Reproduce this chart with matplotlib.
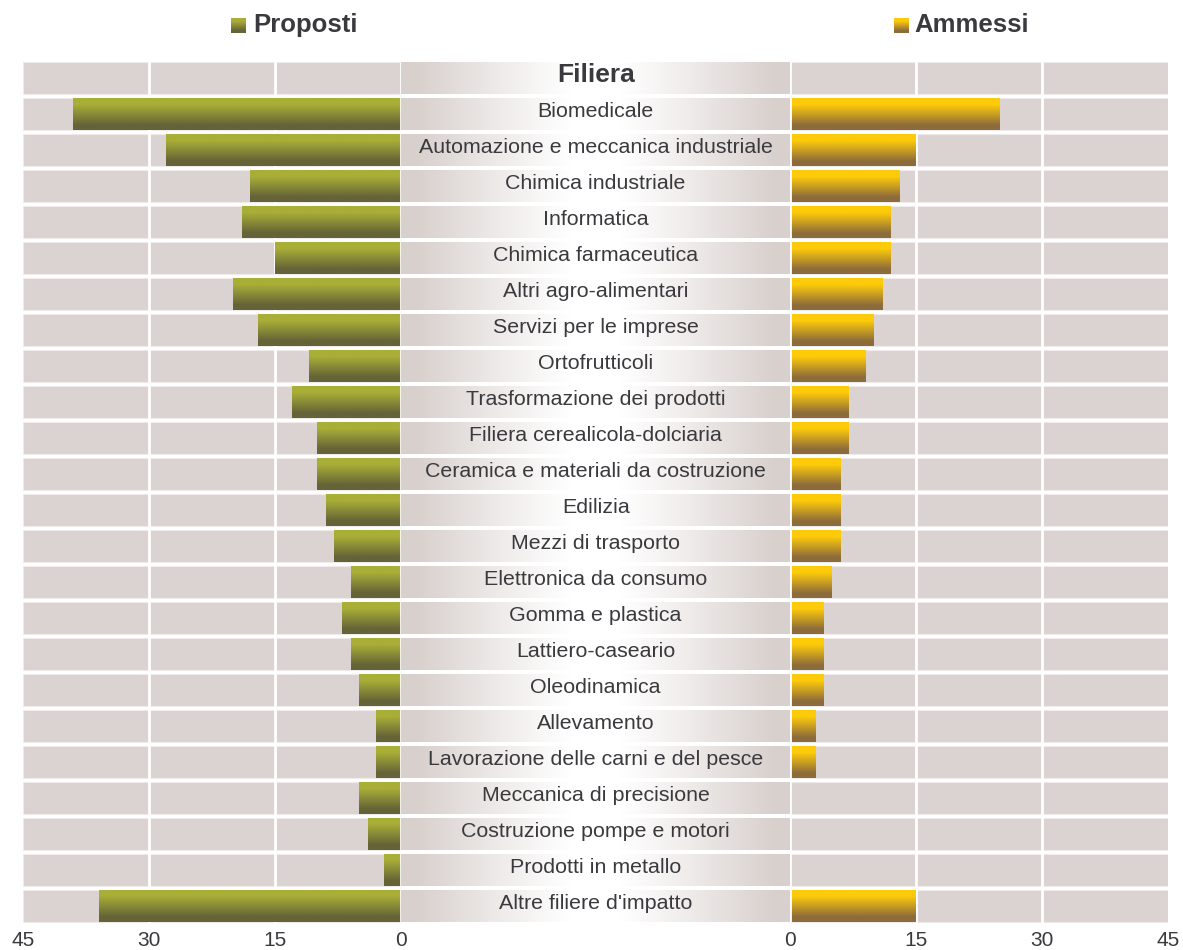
import numpy as np
import matplotlib
matplotlib.use('Agg')
import matplotlib.pyplot as plt
from matplotlib.colors import to_rgb

plt.rcParams['font.family'] = ['Liberation Sans', 'DejaVu Sans']

# dati
categorie = ['Biomedicale', 'Automazione e meccanica industriale', 'Chimica industriale',
             'Informatica', 'Chimica farmaceutica', 'Altri agro-alimentari',
             'Servizi per le imprese', 'Ortofrutticoli', 'Trasformazione dei prodotti',
             'Filiera cerealicola-dolciaria', 'Ceramica e materiali da costruzione',
             'Edilizia', 'Mezzi di trasporto', 'Elettronica da consumo', 'Gomma e plastica',
             'Lattiero-caseario', 'Oleodinamica', 'Allevamento',
             'Lavorazione delle carni e del pesce', 'Meccanica di precisione',
             'Costruzione pompe e motori', 'Prodotti in metallo', "Altre filiere d'impatto"]
proposti = [39, 28, 18, 19, 15, 20, 17, 11, 13, 10, 10, 9, 8, 6, 7, 6, 5, 3, 3, 5, 4, 2, 36]
ammessi = [25, 15, 13, 12, 12, 11, 10, 9, 7, 7, 6, 6, 6, 5, 4, 4, 4, 3, 3, 0, 0, 0, 15]
tick_sx = [45, 30, 15, 0]
tick_dx = [0, 15, 30, 45]

testo = '#3a3a3e'
grigio = '#dbd3d1'


def gradiente_v(top, bot, n=60):
    t = np.linspace(0, 1, n)
    m = np.clip((t - 0.2) / 0.65, 0, 1)
    c1, c2 = np.array(to_rgb(top)), np.array(to_rgb(bot))
    return (c1[None, :] * (1 - m[:, None]) + c2[None, :] * m[:, None])[:, None, :]


img_verde = gradiente_v('#a9ae37', '#656338')
img_giallo = gradiente_v('#fdcb0a', '#8d6c3b')


def riempi(ax, bars, img):
    for b in bars:
        x0, y0 = b.get_xy()
        w, hh = b.get_width(), b.get_height()
        if w == 0:
            continue
        im = ax.imshow(img, extent=(x0, x0 + w, y0 + hh, y0), origin='upper',
                       aspect='auto', zorder=3, interpolation='bilinear')
        im.set_clip_path(b)


fig = plt.figure(figsize=(11.83, 9.5), dpi=100)
bottom = 26 / 950
height = 864 / 950
axL = fig.add_axes([23 / 1183, bottom, 378.3 / 1183, height])
axC = fig.add_axes([401.3 / 1183, bottom, 388.7 / 1183, height])
axR = fig.add_axes([790 / 1183, bottom, 378 / 1183, height])

righe = np.arange(1, len(categorie) + 1)
tutte = np.arange(0, len(categorie) + 1)
h = 32 / 36

# pannello sinistro (Proposti) e destro (Ammessi)
for ax, vals, img, ticks in [(axL, proposti, img_verde, tick_sx),
                             (axR, ammessi, img_giallo, tick_dx)]:
    ax.barh(tutte, 45, height=h, color=grigio, edgecolor='#efebea', linewidth=0.8, zorder=0)
    for g in (15, 30):
        ax.axvline(g, color='white', lw=2, zorder=1)
    bars = ax.barh(righe, vals, height=h, color='#888', linewidth=0, zorder=2)
    riempi(ax, bars, img)
    ax.set_xticks(ticks)
    ax.set_xticklabels([str(t) for t in ticks])
    ax.tick_params(axis='x', length=0, labelsize=15, labelcolor=testo, pad=5)
    ax.set_yticks([])
    for s in ax.spines.values():
        s.set_visible(False)

axL.set_xlim(45, 0)
axR.set_xlim(0, 45)
axL.axvline(0, color='white', lw=2, zorder=4)
axR.axvline(0, color='white', lw=2, zorder=4)

# colonna centrale con le filiere
xs = np.linspace(0, 1, 200)
t = np.abs(xs - 0.5) * 2
m = np.clip(t * 1.25 - 0.15, 0, 1) ** 1.1
cg = np.array(to_rgb('#d8d0cd'))
riga_img = (np.ones(3)[None, :] * (1 - m[:, None]) + cg[None, :] * m[:, None])[None, :, :]
for r in tutte:
    axC.imshow(riga_img, extent=(0, 1, r + h / 2, r - h / 2), aspect='auto',
               zorder=0, interpolation='bilinear')
axC.text(0.5, 0.1, 'Filiera', ha='center', va='baseline', fontsize=19,
         fontweight='bold', color=testo)
for r, c in zip(righe, categorie):
    axC.text(0.5, r + 0.07, c, ha='center', va='baseline', fontsize=15.4, color=testo)
axC.set_xlim(0, 1)
axC.axis('off')

for ax in (axL, axC, axR):
    ax.set_ylim(len(categorie) + 0.5, -0.5)

# legenda
for x_q, x_t, nome, img in [(231, 305.5, 'Proposti', img_verde),
                            (894, 972, 'Ammessi', img_giallo)]:
    axq = fig.add_axes([x_q / 1183, 1 - 33 / 950, 15 / 1183, 15 / 950])
    axq.imshow(img, aspect='auto', interpolation='bilinear')
    axq.axis('off')
    fig.text(x_t / 1183, 1 - 25 / 950, nome, ha='center', va='center',
             fontsize=18.5, fontweight='bold', color=testo)

plt.savefig('out.png', dpi=100)
plt.close()
